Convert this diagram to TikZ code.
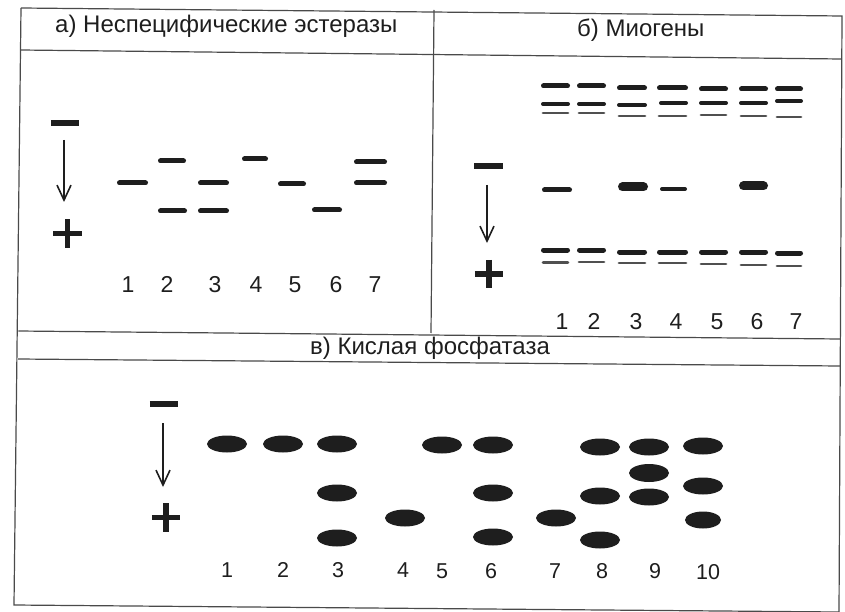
\documentclass[tikz,border=0pt]{standalone}
\usepackage{fontspec}
\setmainfont{Liberation Sans}
\usetikzlibrary{arrows.meta}
\definecolor{ink}{HTML}{1E1E1E}
\definecolor{rule}{HTML}{4A4A4A}
\definecolor{faint}{HTML}{505050}
\begin{document}
\begin{tikzpicture}[x=1pt,y=-1pt,
  frameline/.style={draw=rule, line width=1.2pt},
  title/.style={anchor=base west, inner sep=0pt, font=\fontsize{24}{28}\selectfont, text=ink},
  lane/.style={anchor=base, inner sep=0pt, font=\fontsize{23}{26}\selectfont, text=ink},
  lanec/.style={lane, font=\fontsize{21.5}{25}\selectfont},
  band/.style={draw=ink, line width=5pt, line cap=round},
  thickband/.style={draw=ink, line width=9pt, line cap=round},
  midband/.style={draw=ink, line width=4pt, line cap=round},
  thinband/.style={draw=faint, line width=2.8pt, line cap=round},
  signbar/.style={draw=ink, line width=5.5pt},
  signbox/.style={minimum width=28pt, minimum height=28pt, inner sep=0pt},
  minusbox/.style={minimum width=28pt, minimum height=1pt, inner sep=0pt},
  elarrow/.style={draw=ink, line width=1.6pt, -{Straight Barb[length=15pt,width=14pt,line width=1.6pt]}},
  spot/.style={fill=ink}
]
\useasboundingbox (0,0) rectangle (845,612);

% ---------- frame ----------
\draw[frameline] (21,8) -- (842,16) -- (839,612);
\draw[frameline] (21,8) -- (14,605) -- (839,612);
\draw[frameline] (20.5,50) -- (841,59);
\draw[frameline] (434,10) -- (431,333);
\draw[frameline] (18.3,331) -- (840,339);
\draw[frameline] (18,359) -- (840,366);

% ---------- titles ----------
\node[title] (ta) at (55,33) {а) Неспецифические эстеразы};
\node[title] (tb) at (577,37) {б) Миогены};
\node[title] (tc) at (310,354) {в) Кислая фосфатаза};

% ---------- panel a ----------
\node[minusbox] (aminus) at (65,123) {};
\draw[signbar] (aminus.west) -- (aminus.east);
\node[signbox] (aplus) at (67.5,233.5) {};
\draw[signbar] (aplus.west) -- (aplus.east) (aplus.north) -- (aplus.south);
\coordinate (afrom) at (64,140);
\coordinate (ato) at (64,202);
\draw[elarrow] (afrom) -- (ato);

\draw[band] (119.5,183) -- (145.5,183);
\draw[band] (160.5,161) -- (183.5,161);
\draw[band] (160.5,211) -- (184.5,211);
\draw[band] (200.5,183) -- (226.5,183);
\draw[band] (200.5,211) -- (226.5,211);
\draw[band] (244.5,159) -- (265.5,159);
\draw[band] (280.5,184) -- (303.5,184);
\draw[band] (314.5,210) -- (339.5,210);
\draw[band] (356.5,162) -- (384.5,162);
\draw[band] (356.5,183) -- (384.5,183);

\node[lane] (a1) at (128,292) {1};
\node[lane] (a2) at (167,292) {2};
\node[lane] (a3) at (215,292) {3};
\node[lane] (a4) at (256,292) {4};
\node[lane] (a5) at (295,292) {5};
\node[lane] (a6) at (336,292) {6};
\node[lane] (a7) at (375,292) {7};

% ---------- panel b ----------
\node[minusbox] (bminus) at (488.5,166) {};
\draw[signbar] (bminus.west) -- (bminus.east);
\node[signbox] (bplus) at (489,274) {};
\draw[signbar] (bplus.west) -- (bplus.east) (bplus.north) -- (bplus.south);
\coordinate (bfrom) at (487,185);
\coordinate (bto) at (487,243);
\draw[elarrow] (bfrom) -- (bto);

% top group
\draw[band] (543.5,86) -- (567.5,86);
\draw[band] (579.5,86) -- (603.5,86);
\draw[band] (619.5,88) -- (644.5,88);
\draw[band] (659.5,88) -- (685.5,88);
\draw[band] (701.5,89) -- (725.5,89);
\draw[band] (741.5,89) -- (765.5,89);
\draw[band] (777.5,89) -- (800.5,89);

\draw[midband] (543,104) -- (568,104);
\draw[midband] (579,104) -- (604,104);
\draw[midband] (619,105) -- (645,105);
\draw[midband] (661,103) -- (686,103);
\draw[midband] (701,103) -- (726,103);
\draw[midband] (741,103) -- (766,103);
\draw[midband] (777,101) -- (801,101);

\draw[thinband] (543,113) -- (568,113);
\draw[thinband] (579,113) -- (604,113);
\draw[thinband] (619,116) -- (645,116);
\draw[thinband] (659,116) -- (686,116);
\draw[thinband] (701,115) -- (726,115);
\draw[thinband] (741,116) -- (766,116);
\draw[thinband] (777,117) -- (801,117);

% middle group
\draw[band] (544.5,190) -- (569.5,190);
\draw[thickband] (622.5,187) -- (643.5,187);
\draw[midband] (662,189) -- (685,189);
\draw[thickband] (743.5,186) -- (763.5,186);

% bottom group
\draw[band] (543.5,250) -- (567.5,250);
\draw[band] (579.5,250) -- (603.5,250);
\draw[band] (619.5,252) -- (644.5,252);
\draw[band] (659.5,252) -- (685.5,252);
\draw[band] (701.5,252) -- (725.5,252);
\draw[band] (741.5,252) -- (765.5,252);
\draw[band] (777.5,253) -- (800.5,253);

\draw[thinband] (543,262.5) -- (568,262.5);
\draw[thinband] (579,262) -- (604,262);
\draw[thinband] (619,263) -- (645,263);
\draw[thinband] (659,263) -- (686,263);
\draw[thinband] (701,264) -- (726,264);
\draw[thinband] (741,265) -- (766,265);
\draw[thinband] (777,266) -- (801,266);

\node[lane] (b1) at (562,329) {1};
\node[lane] (b2) at (594,329) {2};
\node[lane] (b3) at (636,329) {3};
\node[lane] (b4) at (676,329) {4};
\node[lane] (b5) at (717,329) {5};
\node[lane] (b6) at (757,329) {6};
\node[lane] (b7) at (796,329) {7};

% ---------- panel c ----------
\node[minusbox] (cminus) at (164,404) {};
\draw[signbar] (cminus.west) -- (cminus.east);
\node[signbox] (cplus) at (166,517.5) {};
\draw[signbar] (cplus.west) -- (cplus.east) (cplus.north) -- (cplus.south);
\coordinate (cfrom) at (163,423);
\coordinate (cto) at (163,487);
\draw[elarrow] (cfrom) -- (cto);

\fill[spot] (227,444) ellipse (20 and 8.5);
\fill[spot] (283,444) ellipse (20 and 8.5);
\fill[spot] (337,444) ellipse (20 and 8.5);
\fill[spot] (337,493) ellipse (20 and 8.5);
\fill[spot] (337,538) ellipse (20 and 8.5);
\fill[spot] (405,518) ellipse (20 and 8.5);
\fill[spot] (442,445) ellipse (20 and 8.5);
\fill[spot] (493,445) ellipse (20 and 8.5);
\fill[spot] (493,493) ellipse (20 and 8.5);
\fill[spot] (493,537) ellipse (20 and 8.5);
\fill[spot] (556,518) ellipse (20 and 8.5);
\fill[spot] (600,447) ellipse (20 and 8.5);
\fill[spot] (600,496) ellipse (20 and 8.5);
\fill[spot] (600,540) ellipse (20 and 8.5);
\fill[spot] (649,447) ellipse (20 and 8.5);
\fill[spot] (649,473) ellipse (20 and 9);
\fill[spot] (649,497) ellipse (20 and 8.5);
\fill[spot] (703,446) ellipse (20 and 8.5);
\fill[spot] (703,486) ellipse (20 and 8.5);
\fill[spot] (703,520) ellipse (18 and 8.5);

\node[lanec] (c1) at (227,577) {1};
\node[lanec] (c2) at (283,577) {2};
\node[lanec] (c3) at (338,577) {3};
\node[lanec] (c4) at (403,577) {4};
\node[lanec] (c5) at (442,578) {5};
\node[lanec] (c6) at (491,578) {6};
\node[lanec] (c7) at (555,578) {7};
\node[lanec] (c8) at (602,578) {8};
\node[lanec] (c9) at (655,578) {9};
\node[lanec] (c10) at (708,579) {10};
\end{tikzpicture}
\end{document}
